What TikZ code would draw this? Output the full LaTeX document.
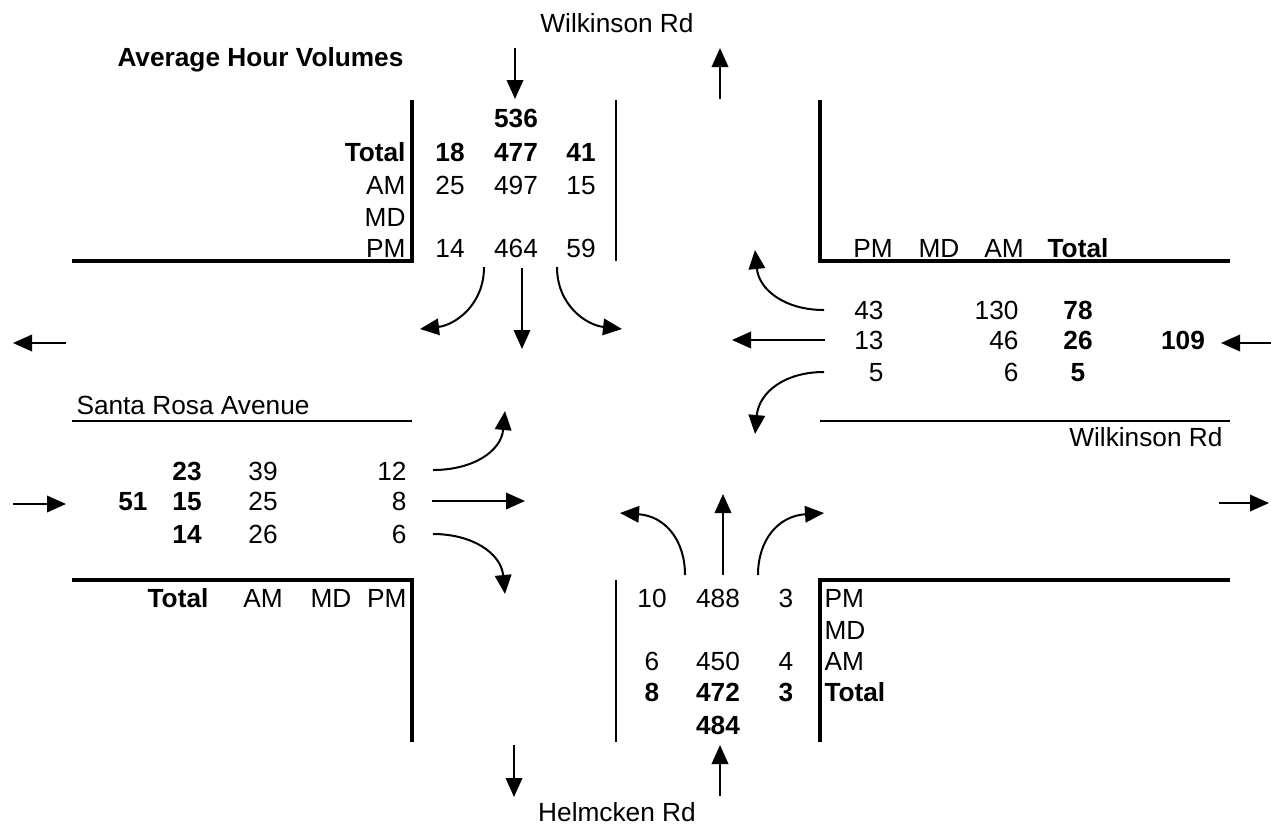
\documentclass[tikz,border=0pt]{standalone}
\usepackage{fontspec}
\setmainfont{Liberation Sans}
\usetikzlibrary{arrows.meta}
\begin{document}
\begin{tikzpicture}[x=0.4pt,y=-0.4pt,
  lbl/.style={font=\fontsize{10.5}{12.5}\selectfont, inner sep=0pt, text height=7.5pt, text depth=0pt},
  bl/.style={lbl, font=\fontsize{10.5}{12.5}\selectfont\bfseries},
  road/.style={line width=1.4pt},
  thinroad/.style={line width=0.55pt},
  flow/.style={line width=0.8pt, -{Triangle[length=7.6pt,width=6.6pt]}}]
\useasboundingbox (0,0) rectangle (1271,834);

% road edges
\draw[road] (72,261) -- (412,261) -- (412,100);
\draw[thinroad] (616,100) -- (616,261);
\draw[road] (820,100) -- (820,261) -- (1230,261);
\draw[thinroad] (72,421) -- (412,421);
\draw[thinroad] (820,421) -- (1230,421);
\draw[road] (72,580) -- (412,580) -- (412,742);
\draw[thinroad] (616,580) -- (616,742);
\draw[road] (820,742) -- (820,580) -- (1230,580);

% titles
\node[bl, anchor=west] (title) at (117,57) {Average Hour Volumes};
\node[lbl] (wilkN) at (617,23) {Wilkinson Rd};
\node[lbl] (helm) at (617,812) {Helmcken Rd};
\node[lbl, anchor=west] (santa) at (76,405) {Santa Rosa Avenue};
\node[lbl, anchor=east] (wilkE) at (1223,437) {Wilkinson Rd};

% north approach table
\node[bl, anchor=east] (nTot) at (406,152) {Total};
\node[lbl, anchor=east] (nAM) at (406,185) {AM};
\node[lbl, anchor=east] (nMD) at (406,217) {MD};
\node[lbl, anchor=east] (nPM) at (406,248) {PM};
\node[bl] (nSum) at (516,118) {536};
\node[bl] (nT1) at (450,152) {18};
\node[bl] (nT2) at (516,152) {477};
\node[bl] (nT3) at (581,152) {41};
\node[lbl] (nA1) at (450,185) {25};
\node[lbl] (nA2) at (516,185) {497};
\node[lbl] (nA3) at (581,185) {15};
\node[lbl] (nP1) at (450,248) {14};
\node[lbl] (nP2) at (516,248) {464};
\node[lbl] (nP3) at (581,248) {59};

% east approach table
\node[lbl] (ePMh) at (873,248) {PM};
\node[lbl] (eMDh) at (939,248) {MD};
\node[lbl] (eAMh) at (1004,248) {AM};
\node[bl] (eToth) at (1078,248) {Total};
\node[lbl, anchor=east] (eP1) at (884,310) {43};
\node[lbl, anchor=east] (eP2) at (884,340) {13};
\node[lbl, anchor=east] (eP3) at (884,372) {5};
\node[lbl, anchor=east] (eA1) at (1019,310) {130};
\node[lbl, anchor=east] (eA2) at (1019,340) {46};
\node[lbl, anchor=east] (eA3) at (1019,372) {6};
\node[bl] (eT1) at (1078,310) {78};
\node[bl] (eT2) at (1078,340) {26};
\node[bl] (eT3) at (1078,372) {5};
\node[bl] (eSum) at (1183,340) {109};

% west approach table
\node[bl] (wSum) at (133,501) {51};
\node[bl] (wT1) at (187,471) {23};
\node[bl] (wT2) at (187,501) {15};
\node[bl] (wT3) at (187,534) {14};
\node[lbl] (wA1) at (263,471) {39};
\node[lbl] (wA2) at (263,501) {25};
\node[lbl] (wA3) at (263,534) {26};
\node[lbl, anchor=east] (wP1) at (407,471) {12};
\node[lbl, anchor=east] (wP2) at (407,501) {8};
\node[lbl, anchor=east] (wP3) at (407,534) {6};
\node[bl] (wToth) at (178,598) {Total};
\node[lbl] (wAMh) at (263,598) {AM};
\node[lbl] (wMDh) at (331,598) {MD};
\node[lbl, anchor=east] (wPMh) at (407,598) {PM};

% south approach table
\node[lbl, anchor=west] (sPM) at (824,598) {PM};
\node[lbl, anchor=west] (sMD) at (824,630) {MD};
\node[lbl, anchor=west] (sAM) at (824,661) {AM};
\node[bl, anchor=west] (sTot) at (824,692) {Total};
\node[lbl] (sP1) at (652,598) {10};
\node[lbl] (sP2) at (718,598) {488};
\node[lbl] (sP3) at (786,598) {3};
\node[lbl] (sA1) at (652,661) {6};
\node[lbl] (sA2) at (718,661) {450};
\node[lbl] (sA3) at (786,661) {4};
\node[bl] (sT1) at (652,692) {8};
\node[bl] (sT2) at (718,692) {472};
\node[bl] (sT3) at (786,692) {3};
\node[bl] (sSum) at (718,725) {484};

% arrow end points
\coordinate (nInA) at (515,48);  \coordinate (nInB) at (515,99);
\coordinate (nOutA) at (720,99); \coordinate (nOutB) at (720,48);
\coordinate (sOutA) at (514,745); \coordinate (sOutB) at (514,797);
\coordinate (sInA) at (720,796); \coordinate (sInB) at (720,745);
\coordinate (wOutA) at (66,343); \coordinate (wOutB) at (13,343);
\coordinate (wInA) at (13,504);  \coordinate (wInB) at (66,504);
\coordinate (eInA) at (1271,343); \coordinate (eInB) at (1221,343);
\coordinate (eOutA) at (1219,503); \coordinate (eOutB) at (1269,503);

\draw[flow] (nInA) -- (nInB);
\draw[flow] (nOutA) -- (nOutB);
\draw[flow] (sOutA) -- (sOutB);
\draw[flow] (sInA) -- (sInB);
\draw[flow] (wOutA) -- (wOutB);
\draw[flow] (wInA) -- (wInB);
\draw[flow] (eInA) -- (eInB);
\draw[flow] (eOutA) -- (eOutB);

% north approach movements
\coordinate (nL0) at (484,267); \coordinate (nL1) at (420,329);
\coordinate (nS0) at (522,268); \coordinate (nS1) at (522,349);
\coordinate (nR0) at (557,267); \coordinate (nR1) at (622,329);
\draw[flow] (nL0) .. controls (484,305) and (455,325) .. (nL1);
\draw[flow] (nS0) -- (nS1);
\draw[flow] (nR0) .. controls (557,305) and (586,325) .. (nR1);

% east approach movements
\coordinate (eL0) at (824,310); \coordinate (eL1) at (755,250);
\coordinate (eS0) at (825,340); \coordinate (eS1) at (732,340);
\coordinate (eR0) at (824,372); \coordinate (eR1) at (755,434);
\draw[flow] (eL0) .. controls (785,310) and (759,290) .. (eL1);
\draw[flow] (eS0) -- (eS1);
\draw[flow] (eR0) .. controls (785,372) and (759,392) .. (eR1);

% west approach movements
\coordinate (wL0) at (433,470); \coordinate (wL1) at (505,411);
\coordinate (wS0) at (432,501); \coordinate (wS1) at (525,501);
\coordinate (wR0) at (433,534); \coordinate (wR1) at (505,594);
\draw[flow] (wL0) .. controls (472,470) and (501,452) .. (wL1);
\draw[flow] (wS0) -- (wS1);
\draw[flow] (wR0) .. controls (472,534) and (501,553) .. (wR1);

% south approach movements
\coordinate (sL0) at (685,575); \coordinate (sL1) at (620,513);
\coordinate (sS0) at (723,575); \coordinate (sS1) at (723,494);
\coordinate (sR0) at (758,575); \coordinate (sR1) at (824,513);
\draw[flow] (sL0) .. controls (685,540) and (665,516) .. (sL1);
\draw[flow] (sS0) -- (sS1);
\draw[flow] (sR0) .. controls (758,540) and (778,516) .. (sR1);
\end{tikzpicture}
\end{document}
